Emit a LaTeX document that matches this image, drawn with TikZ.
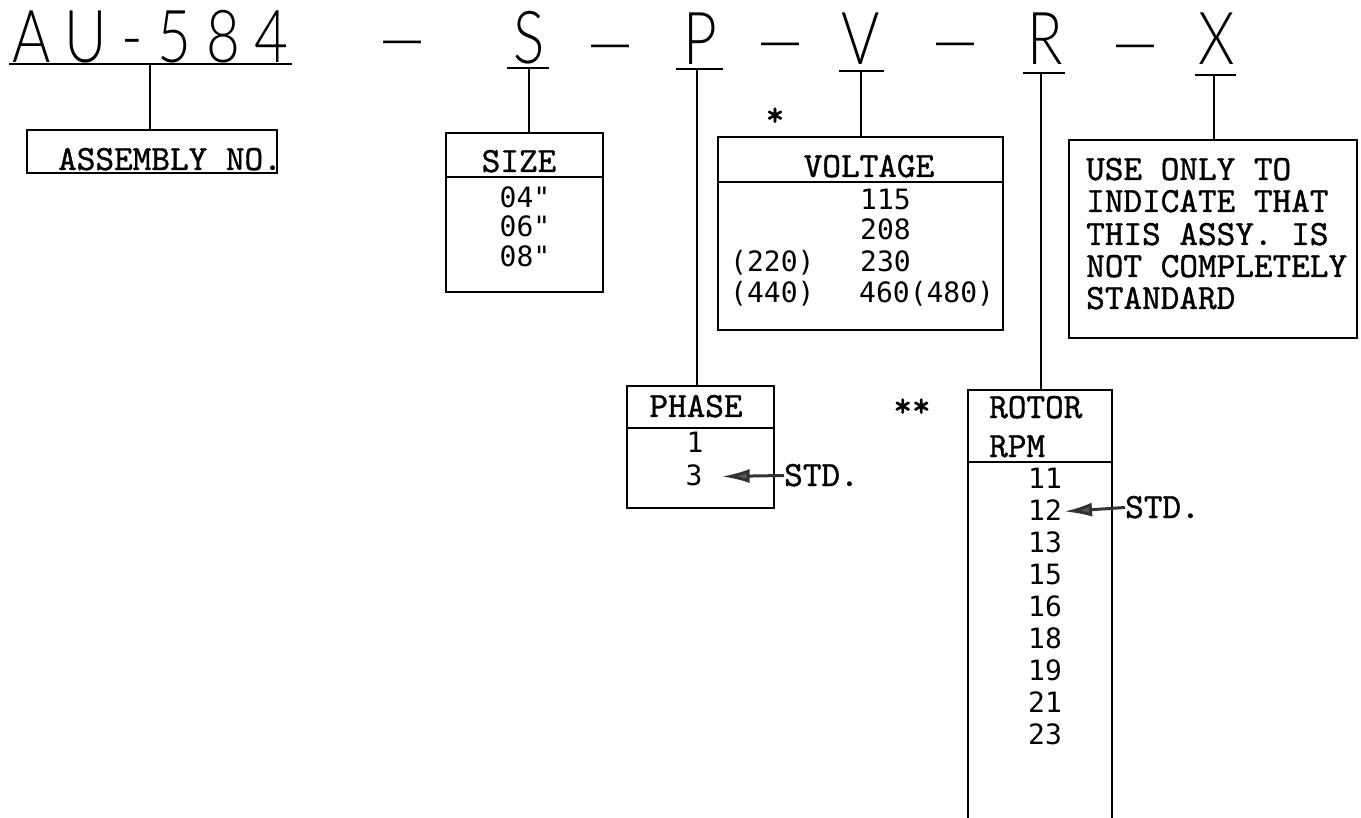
\documentclass[tikz,border=0pt]{standalone}
\usepackage{fontspec}
\usetikzlibrary{arrows.meta}
\IfFontExistsTF{Lato Light}{\newfontfamily\titlefont[FakeStretch=0.8]{Lato Light}}{%
 \IfFontExistsTF{Fira Sans Light}{\newfontfamily\titlefont[FakeStretch=0.8]{Fira Sans Light}}{%
  \IfFontExistsTF{DejaVu Sans ExtraLight}{\newfontfamily\titlefont[FakeStretch=0.8]{DejaVu Sans ExtraLight}}{%
   \newfontfamily\titlefont[FakeStretch=0.8]{Lato}}}}
\newfontfamily\twfont[FakeBold=1]{lmmono10-regular.otf}
\newfontfamily\numfont{DejaVu Sans Mono}
\begin{document}
\begin{tikzpicture}[x=1pt,y=-1pt,
  title/.style={font=\titlefont\fontsize{73}{80}\selectfont, inner sep=0pt, anchor=base},
  tw/.style={font=\twfont\fontsize{35.5}{36}\selectfont, inner sep=0pt, text height=22pt, text depth=1pt},
  num/.style={font=\numfont\fontsize{28}{30}\selectfont, inner sep=0pt, text height=21pt, text depth=4pt},
  box/.style={draw, line width=1.5pt, rectangle, inner sep=0pt, outer sep=0pt, anchor=north west},
  uline/.style={line width=1.8pt},
  link/.style={line width=1.3pt},
  sep/.style={line width=1.6pt},
  stdarrow/.style={line width=3pt, draw=black!80, -{Latex[length=28pt,width=14pt,fill=black!65]}}
]
\useasboundingbox (0,0) rectangle (1361,818);

% ---- title line ----
\node[title] (tAU) at (150.5,63) {\addfontfeatures{LetterSpace=20}AU-584};
\node[title] (d1) at (402,64) {—};
\node[title] (tS) at (529,64) {S};
\node[title] (d2) at (610,68) {—};
\node[title] (tP) at (700,65) {P};
\node[title] (d3) at (780,66) {—};
\node[title] (tV) at (861,65) {V};
\node[title] (d4) at (955,66) {—};
\node[title] (tR) at (1045,65) {R};
\node[title] (d5) at (1135,68) {—};
\node[title] (tX) at (1217,65) {X};

% underlines
\draw[uline] (9,64) -- (292,64);
\draw[uline] (507,68) -- (549,68);
\draw[uline] (676,69) -- (723,69);
\draw[uline] (839,71) -- (884,71);
\draw[uline] (1023,73) -- (1065,73);
\draw[uline] (1195,75) -- (1236,75);
\coordinate (uAU) at (150,64);
\coordinate (uS) at (529,68);
\coordinate (uP) at (697,69);
\coordinate (uV) at (861,71);
\coordinate (uR) at (1041,73);
\coordinate (uX) at (1214,75);

% ---- boxes ----
\node[box, minimum width=250pt, minimum height=43pt] (asm) at (27,130) {};
\node[box, minimum width=157pt, minimum height=159pt] (size) at (446,133) {};
\node[box, minimum width=147pt, minimum height=122pt] (phase) at (627,386) {};
\node[box, minimum width=285pt, minimum height=193pt] (volt) at (718,137) {};
\node[box, draw=none, minimum width=144pt, minimum height=428pt] (rotor) at (968,390) {};
\draw[line width=1.5pt] (rotor.south west) |- (rotor.north east) -- (rotor.south east);
\node[box, minimum width=288pt, minimum height=198pt] (xbox) at (1069,140) {};

% separators
\draw[sep] (size.west |- 0,177) -- (size.east |- 0,177);
\draw[sep] (phase.west |- 0,428) -- (phase.east |- 0,428);
\draw[sep] (volt.west |- 0,182) -- (volt.east |- 0,182);
\draw[sep] (rotor.west |- 0,462) -- (rotor.east |- 0,462);

% connectors
\draw[link] (uAU) -- (uAU |- asm.north);
\draw[link] (uS) -- (uS |- size.north);
\draw[link] (uP) -- (uP |- phase.north);
\draw[link] (uV) -- (uV |- volt.north);
\draw[link] (uR) -- (uR |- rotor.north);
\draw[link] (uX) -- (uX |- xbox.north);

% ---- texts ----
\node[tw, anchor=base west] (asmt) at (58,170) {ASSEMBLY NO.};

\node[tw, anchor=base] (sizet) at (519,172) {SIZE};
\node[num, anchor=base] (s1) at (525,208) {04"};
\node[num, anchor=base] (s2) at (525,237) {06"};
\node[num, anchor=base] (s3) at (525,267) {08"};

\node[tw, anchor=base] (star1) at (775,126) {*};
\node[tw, anchor=base] (voltt) at (869,177) {VOLTAGE};
\node[num, anchor=base west] (v1) at (860,210) {115};
\node[num, anchor=base west] (v2) at (860,240) {208};
\node[num, anchor=base west] (v3l) at (730,272) {(220)};
\node[num, anchor=base west] (v3) at (860,272) {230};
\node[num, anchor=base west] (v4l) at (730,303) {(440)};
\node[num, anchor=base west] (v4) at (859,303) {460(480)};

\node[tw, anchor=base] (phaset) at (696,417) {PHASE};
\node[num, anchor=base] (ph1) at (695,453) {1};
\node[num, anchor=base] (ph3) at (694,485) {3};
\node[tw, anchor=base west] (std1) at (784,486) {STD.};
\draw[stdarrow] (std1.west) -- ([xshift=19pt]ph3.east);

\node[tw, anchor=base] (star2) at (912,417) {**};
\node[tw, anchor=base west] (rotort) at (989,418) {ROTOR};
\node[tw, anchor=base west] (rpmt) at (989,457) {RPM};
\node[num, anchor=base] (r11) at (1045,488) {11};
\node[num, anchor=base] (r12) at (1045,520) {12};
\node[num, anchor=base] (r13) at (1045,552) {13};
\node[num, anchor=base] (r15) at (1045,584) {15};
\node[num, anchor=base] (r16) at (1045,616) {16};
\node[num, anchor=base] (r18) at (1045,648) {18};
\node[num, anchor=base] (r19) at (1045,680) {19};
\node[num, anchor=base] (r21) at (1045,712) {21};
\node[num, anchor=base] (r23) at (1045,744) {23};
\node[tw, anchor=base west] (std2) at (1125,518) {STD.};
\draw[stdarrow] (std2.west) -- ([xshift=2pt]r12.east);

\node[tw, anchor=base west] (x1) at (1086,180) {USE ONLY TO};
\node[tw, anchor=base west] (x2) at (1086,212) {INDICATE THAT};
\node[tw, anchor=base west] (x3) at (1086,245) {THIS ASSY. IS};
\node[tw, anchor=base west] (x4) at (1086,277) {NOT COMPLETELY};
\node[tw, anchor=base west] (x5) at (1086,309) {STANDARD};
\end{tikzpicture}
\end{document}
